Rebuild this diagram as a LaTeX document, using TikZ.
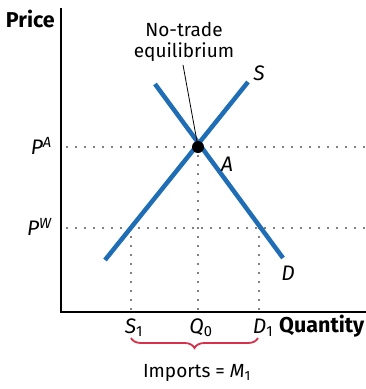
\documentclass[tikz,border=0pt]{standalone}
\usepackage{fontspec}
\setmainfont{Fira Sans}
\usetikzlibrary{decorations.pathreplacing}
\definecolor{curveblue}{HTML}{1F6DB5}
\definecolor{bracered}{HTML}{D6304A}
\tikzset{
  curve/.style={line width=4.5pt, curveblue},
  guide/.style={line width=1.8pt, dash pattern=on 0pt off 9pt, line cap=round},
  lbl/.style={font=\fontsize{19}{21}\selectfont, inner sep=1pt},
  mlbl/.style={font=\fontsize{21}{23}\selectfont\itshape, inner sep=1pt},
  axlbl/.style={font=\fontsize{21.5}{23}\selectfont\bfseries, inner sep=1pt}
}

\begin{document}
\begin{tikzpicture}[x=1pt, y=-1pt]
  \useasboundingbox (0,0) rectangle (366,389);
  % axes
  \coordinate (o) at (61,312);
  \coordinate (ytop) at (61,8);
  \coordinate (xend) at (366,312);
  \draw[line width=1.2pt] (ytop) -- (o) -- (xend);
  \node[axlbl, anchor=east] (price) at (56,19) {Price};
  \node[axlbl, anchor=west] (quantity) at (278,326) {Quantity};
  % supply and demand
  \coordinate (s0) at (105,260);
  \coordinate (s1) at (248,82);
  \coordinate (d0) at (155,84);
  \coordinate (d1) at (283,258);
  \coordinate (eq) at (198,147);
  % price levels
  \coordinate (paR) at (366,147);
  \coordinate (paL) at (67,147);
  \coordinate (pwL) at (67,228);
  \coordinate (pwR) at (366,228);
  \coordinate (sw) at (131,228);
  \coordinate (dw) at (259,228);
  \draw[guide] (paL) -- (paR);
  \draw[guide] (pwL) -- (pwR);
  \draw[guide] (eq) -- (eq |- o);
  \draw[guide] (sw) -- (sw |- o);
  \draw[guide] (dw) -- (dw |- o);
  \draw[curve] (s0) -- (s1);
  \draw[curve] (d0) -- (d1);
  \fill (eq) circle (6pt);
  \node[mlbl, anchor=east] (pa) at (53,146) {P\textsuperscript{A}};
  \node[mlbl, anchor=east] (pw) at (53,227) {P\textsuperscript{W}};
  \node[mlbl] (slbl) at (259,73) {S};
  \node[mlbl] (dlbl) at (288,273) {D};
  \node[mlbl] (albl) at (227,164) {A};
  % quantities
  \node[mlbl] (sq) at (134,328) {S\textsubscript{\upshape 1}};
  \node[mlbl] (q0) at (201,328) {Q\textsubscript{\upshape 0}};
  \node[mlbl] (dq) at (263,328) {D\textsubscript{\upshape 1}};
  % no-trade label
  \node[lbl, align=center] (notrade) at (184,42) {No-trade\\equilibrium};
  \draw[line width=0.8pt] (notrade.south) ++(-1,2) -- (eq);
  % imports brace
  \draw[bracered, line width=1.8pt, decoration={brace, mirror, amplitude=10pt}, decorate]
    (131,338) -- (258,338);
  \node[lbl] (imports) at (197,373) {Imports = \textit{M}\textsubscript{1}};
\end{tikzpicture}
\end{document}
